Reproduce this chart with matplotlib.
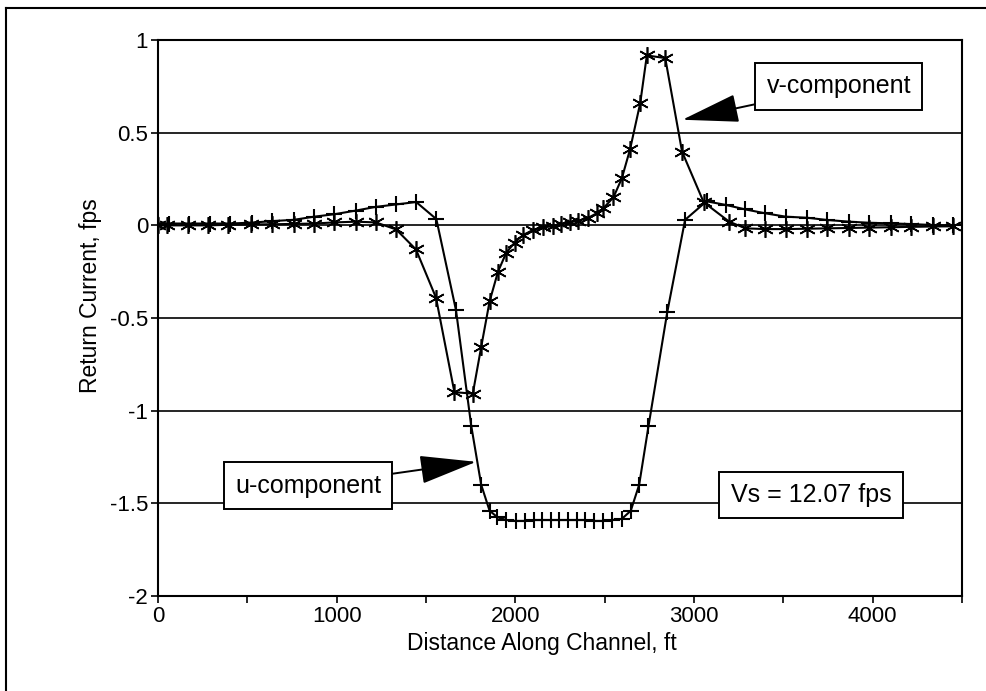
import matplotlib
matplotlib.use('Agg')
import matplotlib.pyplot as plt
from matplotlib.lines import Line2D

plt.rcParams['font.family'] = ['Liberation Sans', 'DejaVu Sans']
plt.rcParams['axes.unicode_minus'] = False

# u-component (plus markers)
u_x = [0, 60, 175, 290, 405, 527, 639, 761, 874, 986,
       1108, 1220, 1333, 1445, 1558, 1668, 1753, 1809, 1856, 1900,
       1949, 2006, 2052, 2103, 2150, 2199, 2246, 2296, 2343, 2390,
       2442, 2492, 2539, 2596, 2646, 2693, 2745, 2850, 2950, 3070,
       3180, 3288, 3400, 3513, 3635, 3747, 3869, 3981, 4103, 4215,
       4337, 4449]
u_y = [0.01, 0.01, 0.01, 0.01, 0.01, 0.015, 0.023, 0.03, 0.047, 0.06,
       0.08, 0.1, 0.113, 0.126, 0.034, -0.458, -1.08, -1.40, -1.54, -1.575,
       -1.59, -1.595, -1.595, -1.59, -1.59, -1.59, -1.59, -1.59, -1.59, -1.59,
       -1.595, -1.595, -1.59, -1.584, -1.54, -1.40, -1.085, -0.47, 0.03, 0.13,
       0.11, 0.086, 0.065, 0.047, 0.041, 0.029, 0.02, 0.014, 0.011, 0.007,
       0.002, 0.0]

# v-component (asterisk markers)
v_x = [0, 49, 169, 281, 393, 520, 640, 760, 874, 986,
       1108, 1220, 1333, 1444, 1556, 1659, 1762, 1809, 1856, 1903,
       1949, 1996, 2043, 2099, 2156, 2212, 2258, 2305, 2352, 2408,
       2455, 2492, 2549, 2596, 2642, 2699, 2736, 2839, 2933, 3054,
       3197, 3288, 3400, 3513, 3635, 3747, 3869, 3981, 4103, 4215,
       4337, 4449]
v_y = [0, 0, 0, 0, 0.003, 0.005, 0.006, 0.008, 0.01, 0.016,
       0.02, 0.016, -0.022, -0.13, -0.39, -0.9, -0.908, -0.656, -0.41, -0.25,
       -0.148, -0.093, -0.052, -0.025, -0.011, -0.004, 0.007, 0.016, 0.025, 0.041,
       0.065, 0.092, 0.151, 0.254, 0.41, 0.66, 0.917, 0.903, 0.398, 0.125,
       0.02, -0.016, -0.02, -0.02, -0.018, -0.016, -0.014, -0.012, -0.01, -0.008,
       -0.006, -0.005]

y_ticks = [1, 0.5, 0, -0.5, -1, -1.5, -2]
y_labels = ['1', '0.5', '0', '-0.5', '-1', '-1.5', '-2']
x_ticks = [0, 1000, 2000, 3000, 4000]

fig = plt.figure(figsize=(9.86, 6.91), dpi=100)
ax = fig.add_axes([0.1602, 0.1375, 0.8155, 0.8045])

# horizontal gridlines
for yv in y_ticks:
    ax.axhline(yv, color='black', linewidth=1.2, zorder=1)

ax.plot(u_x, u_y, color='black', linewidth=1.5, marker='+', markersize=12,
        markeredgewidth=1.5, zorder=3)
ax.plot(v_x, v_y, color='black', linewidth=1.5, marker=(6, 2, 0), markersize=12,
        markeredgewidth=1.2, zorder=3)

ax.set_xlim(0, 4500)
ax.set_ylim(-2, 1)
ax.set_xticks(x_ticks)
ax.set_xticks([500, 1500, 2500, 3500, 4500], minor=True)
ax.set_yticks(y_ticks)
ax.set_yticklabels(y_labels)
ax.tick_params(axis='both', which='both', direction='out', length=5, width=1.2,
               labelsize=16, colors='black', pad=2)
for s in ax.spines.values():
    s.set_linewidth(1.5)

ax.set_xlabel('Distance Along Channel, ft', fontsize=16.5)
ax.set_ylabel('Return Current, fps', fontsize=16.5)
ax.xaxis.set_label_coords(0.478, -0.064)
ax.yaxis.set_label_coords(-0.069, 0.54)

box = dict(boxstyle='square,pad=0.45', facecolor='white', edgecolor='black', linewidth=1.4)
arrow = dict(arrowstyle='-|>,head_length=2.0,head_width=0.5', color='black', linewidth=1.4,
             shrinkA=0, shrinkB=0)

ax.annotate('v-component', xy=(2935, 0.57), xytext=(3810, 0.75), fontsize=18,
            ha='center', va='center', bbox=box, arrowprops=arrow, zorder=5)
ax.annotate('u-component', xy=(1781, -1.276), xytext=(840, -1.405), fontsize=18,
            ha='center', va='center', bbox=box, arrowprops=arrow, zorder=5)
ax.text(3655, -1.455, 'Vs = 12.07 fps', fontsize=18, ha='center', va='center',
        bbox=box, zorder=5)

# outer frame
fig.add_artist(Line2D([0.006, 1.0], [0.988, 0.988], color='black', linewidth=1.5))
fig.add_artist(Line2D([0.006, 0.006], [0.0, 0.988], color='black', linewidth=1.5))

fig.savefig('out.png', dpi=100)
